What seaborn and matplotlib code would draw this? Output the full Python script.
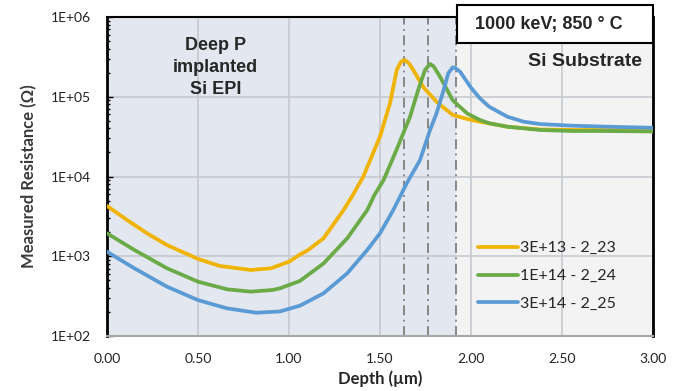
import numpy as np
import pandas as pd
import seaborn as sns
import matplotlib.pyplot as plt
from matplotlib.patches import Rectangle
from matplotlib.ticker import FuncFormatter, LogLocator, NullFormatter

# estilo base
sns.set_theme(style='white')
plt.rcParams['font.family'] = ['Lato', 'DejaVu Sans']

# datos: profundidad (um) y resistencia (ohm)
depth_23 = [0.00, 0.11, 0.22, 0.33, 0.50, 0.62, 0.79, 0.90, 0.95, 1.00, 1.06, 1.10,
            1.19, 1.30, 1.35, 1.408, 1.45, 1.50, 1.555, 1.592, 1.615, 1.637, 1.66, 1.683,
            1.74, 1.81, 1.90, 1.98, 2.05, 2.20, 2.38, 2.56, 2.75, 3.00]
res_23 = [4270, 2850, 1940, 1380, 925, 755, 673, 706, 776, 855, 1050, 1175,
          1680, 3800, 5800, 9950, 16900, 31600, 83000, 216000, 275000, 289000, 262000, 216000,
          130000, 86800, 59000, 52600, 48600, 42100, 38900, 38300, 38300, 37500]

depth_24 = [0.00, 0.15, 0.33, 0.50, 0.66, 0.79, 0.91, 0.95, 1.06, 1.19, 1.32, 1.43,
            1.47, 1.52, 1.59, 1.665, 1.71, 1.747, 1.775, 1.795, 1.83, 1.90, 1.98, 2.05,
            2.10, 2.20, 2.38, 2.56, 2.75, 3.00]
res_24 = [1940, 1200, 706, 480, 385, 360, 378, 396, 490, 813, 1680, 3800,
          5900, 9040, 21400, 56200, 122000, 216000, 258000, 240000, 178000, 90000, 61500, 51000,
          46500, 42100, 38300, 37200, 37200, 36700]

depth_25 = [0.00, 0.15, 0.33, 0.50, 0.66, 0.82, 0.95, 1.06, 1.19, 1.32, 1.43, 1.50,
            1.573, 1.647, 1.72, 1.775, 1.81, 1.85, 1.875, 1.90, 1.915, 1.94, 2.00, 2.05,
            2.10, 2.20, 2.29, 2.38, 2.56, 2.75, 3.00]
res_25 = [1140, 706, 415, 282, 222, 196, 203, 240, 343, 611, 1200, 1940,
          3800, 8220, 16100, 38300, 61500, 122000, 197000, 234000, 228000, 206000, 130000, 95000,
          75000, 56200, 48600, 45500, 43300, 42100, 40800]

series_names = ['3E+13 - 2_23', '1E+14 - 2_24', '3E+14 - 2_25']
colors = ['#F0B400', '#6AAA47', '#5B9BD5']
peak_lines = [1.632, 1.766, 1.918]
epi_edge = 1.92

frames = []
for name, xs, rs in zip(series_names, [depth_23, depth_24, depth_25], [res_23, res_24, res_25]):
    frames.append(pd.DataFrame({'Depth': xs, 'R': rs, 'Muestra': name}))
df = pd.concat(frames, ignore_index=True)

fig = plt.figure(figsize=(6.81, 3.91), dpi=100)
ax = fig.add_axes([107/681, 55/391, 546/681, 319/391])

# zonas sombreadas: EPI y sustrato
ax.axvspan(0, epi_edge, color='#E3E7EF', lw=0, zorder=0.1)
ax.axvspan(epi_edge, 3.0, color='#F3F3F3', lw=0, zorder=0.1)

sns.lineplot(data=df, x='Depth', y='R', hue='Muestra', palette=colors,
             estimator=None, sort=False, lw=2.7, ax=ax, zorder=3)

for xv in peak_lines:
    ax.axvline(xv, color='#7F7F7F', lw=1.3, ls=(0, (5.5, 2.5, 1, 2.5)), zorder=2)

ax.set_yscale('log')
ax.set_xlim(0, 3)
ax.set_ylim(1e2, 1e6)
ax.set_xticks(np.arange(0, 3.01, 0.5))
ax.xaxis.set_major_formatter(FuncFormatter(lambda v, p: f'{v:.2f}'))
ax.yaxis.set_major_locator(LogLocator(base=10, numticks=10))
ax.yaxis.set_minor_locator(LogLocator(base=10, subs=np.arange(2, 10), numticks=10))
ax.yaxis.set_major_formatter(FuncFormatter(lambda v, p: f'1E+{int(round(np.log10(v))):02d}'))
ax.yaxis.set_minor_formatter(NullFormatter())

ax.set_axisbelow(True)
ax.grid(True, which='major', color='#C6C9CF', lw=1.2)

ax.tick_params(axis='y', which='both', direction='in', left=True, color='black',
               labelsize=10, pad=11.5, labelcolor='#222222')
ax.tick_params(axis='y', which='major', length=4, width=1)
ax.tick_params(axis='y', which='minor', length=2.5, width=1)
ax.tick_params(axis='x', length=0, labelsize=10, pad=12, labelcolor='#222222')

for side, col, lw in [('left', 'black', 2), ('top', 'black', 1.5),
                      ('right', 'black', 2), ('bottom', '#A6A6A6', 1.5)]:
    ax.spines[side].set_visible(True)
    ax.spines[side].set_color(col)
    ax.spines[side].set_linewidth(lw)

ax.set_xlabel('Depth (µm)', fontweight='bold', fontsize=12, labelpad=4)
ax.set_ylabel('Measured Resistance (Ω)', fontweight='bold', fontsize=12,
              color='#3A3A3A', labelpad=10)

ax.text(0.199, 0.938, 'Deep P\nimplanted\nSi EPI', transform=ax.transAxes,
        ha='center', va='top', fontsize=13, fontweight='bold',
        family='Liberation Sans', linespacing=1.4)
ax.text(0.980, 0.859, 'Si Substrate', transform=ax.transAxes,
        ha='right', va='center', fontsize=14, fontweight='bold',
        family='Liberation Sans')

# recuadro con las condiciones del implante
fig.patches.append(Rectangle((457/681, 1 - 43/391), 196/681, 38/391,
                             transform=fig.transFigure, fc='white', ec='black',
                             lw=1.5, zorder=5))
fig.text(548.5/681, 1 - 24.5/391, '1000 keV; 850 ° C', ha='center', va='center',
         fontsize=13, fontweight='bold', family='Liberation Sans', zorder=6)

ax.legend(loc='center left', bbox_to_anchor=(0.679, 0.188), frameon=False,
          fontsize=11.5, handlelength=2.5, handletextpad=0.15,
          labelspacing=0.85, borderpad=0, borderaxespad=0)

plt.savefig('out.png', dpi=100)
